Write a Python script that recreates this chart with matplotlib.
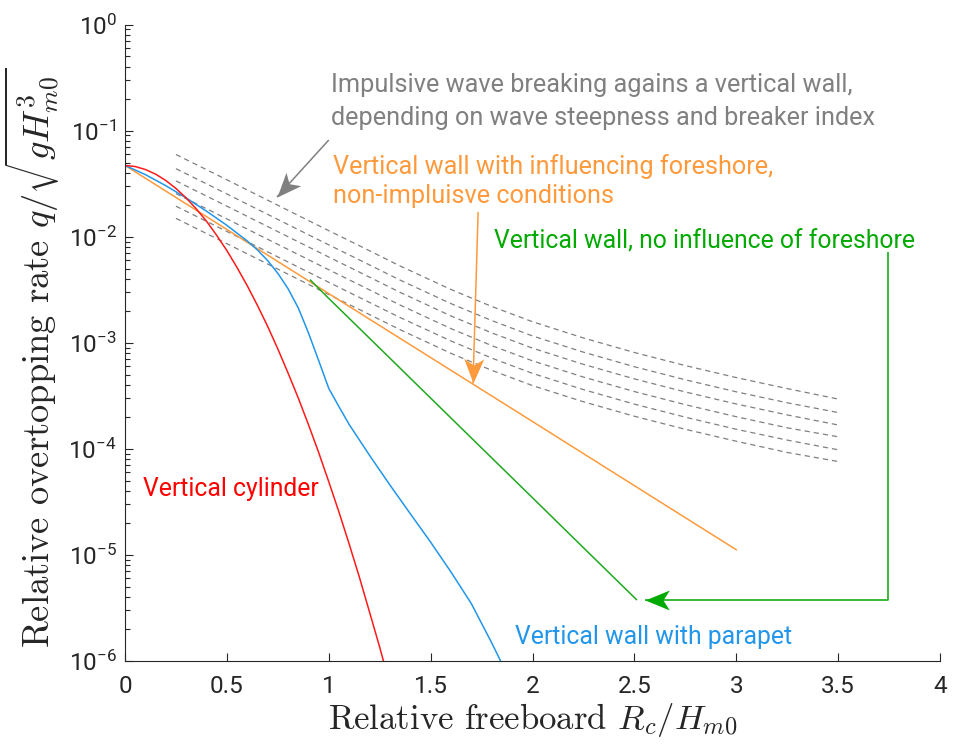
import numpy as np
import matplotlib
matplotlib.use('Agg')
import matplotlib.pyplot as plt
from matplotlib.markers import MarkerStyle
from matplotlib.path import Path
from matplotlib.transforms import Affine2D

# relative freeboard Rc/Hm0 and relative overtopping rate q/sqrt(g Hm0^3)
rc_cyl = [0, 0.05, 0.1, 0.15, 0.2, 0.25, 0.3, 0.35, 0.4, 0.45, 0.5, 0.55, 0.6, 0.65,
          0.7, 0.75, 0.8, 0.85, 0.9, 0.95, 1.0, 1.05, 1.1, 1.15, 1.2, 1.25, 1.3]
q_cyl = [0.047, 0.0459, 0.0430, 0.0389, 0.0339, 0.0285, 0.0232, 0.0183, 0.0140,
         0.0103, 0.0074, 0.00512, 0.00345, 0.00225, 0.00143, 8.76e-4, 5.2e-4,
         3.03e-4, 1.70e-4, 9.3e-5, 4.9e-5, 2.54e-5, 1.27e-5, 6.2e-6, 2.9e-6,
         1.35e-6, 6.0e-7]

rc_par = [0, 0.1, 0.2, 0.3, 0.4, 0.5, 0.6, 0.65, 0.7, 0.75, 0.8, 0.85, 0.9, 0.95,
          1.0, 1.05, 1.1, 1.2, 1.3, 1.4, 1.5, 1.6, 1.7, 1.8, 1.9]
q_par = [0.047, 0.0385, 0.0303, 0.0232, 0.0174, 0.0128, 0.00912, 0.0075, 0.00596,
         0.00452, 0.00324, 0.00214, 0.001245, 6.84e-4, 3.72e-4, 2.5e-4, 1.70e-4,
         8.7e-5, 4.57e-5, 2.45e-5, 1.32e-5, 6.9e-6, 3.47e-6, 1.48e-6, 6.0e-7]

rc_wall = [0.91, 1.0, 1.25, 1.5, 1.75, 2.0, 2.25, 2.51]
q_wall = [3.9e-3, 2.62e-3, 8.9e-4, 3.01e-4, 1.02e-4, 3.46e-5, 1.17e-5, 3.8e-6]

rc_fore = [0, 0.5, 1.0, 1.5, 2.0, 2.5, 3.0]
q_fore = [0.047, 0.0117, 2.91e-3, 7.26e-4, 1.81e-4, 4.5e-5, 1.12e-5]

# impulsive breaking, one line per steepness / breaker index
rc_imp = [0.25, 0.5, 0.75, 1.0, 1.15, 1.35, 1.6, 1.8, 2.0, 2.25, 2.5, 2.75, 3.0, 3.25, 3.5]
q_imp = [
    [0.0596, 0.0344, 0.0198, 0.0114, 0.00823, 0.0053, 0.00318, 0.0022, 0.00158,
     0.00111, 8.1e-4, 6.1e-4, 4.7e-4, 3.7e-4, 2.95e-4],
    [0.0438, 0.0253, 0.01455, 0.00838, 0.00605, 0.0039, 0.00234, 0.00162, 0.00116,
     8.16e-4, 5.95e-4, 4.48e-4, 3.45e-4, 2.72e-4, 2.2e-4],
    [0.0336, 0.0194, 0.01117, 0.00643, 0.00464, 0.00299, 0.00179, 0.00124, 8.9e-4,
     6.26e-4, 4.57e-4, 3.44e-4, 2.65e-4, 2.09e-4, 1.68e-4],
    [0.0255, 0.01472, 0.00847, 0.00488, 0.00352, 0.00227, 0.00136, 9.4e-4, 6.76e-4,
     4.75e-4, 3.47e-4, 2.61e-4, 2.01e-4, 1.58e-4, 1.3e-4],
    [0.0194, 0.01121, 0.00645, 0.00372, 0.00268, 0.00173, 0.00104, 7.17e-4, 5.15e-4,
     3.62e-4, 2.64e-4, 1.99e-4, 1.53e-4, 1.21e-4, 9.8e-5],
    [0.0149, 0.0086, 0.00495, 0.00285, 0.00206, 0.00133, 7.95e-4, 5.5e-4, 3.95e-4,
     2.78e-4, 2.03e-4, 1.53e-4, 1.18e-4, 9.25e-5, 7.6e-5],
]

x_ticks = [0, 0.5, 1, 1.5, 2, 2.5, 3, 3.5, 4]
x_ticklabels = ['0', '0.5', '1', '1.5', '2', '2.5', '3', '3.5', '4']
y_ticks = [1e-6, 1e-5, 1e-4, 1e-3, 1e-2, 1e-1, 1e0]

RED = '#ff1a1a'
BLUE = '#2196ea'
GREEN = '#1fa81f'
GREEN_TXT = '#00aa00'
ORANGE = '#ff9a3c'
GREY = '#808080'
AXC = '#262626'

plt.rcParams['font.family'] = ['Roboto', 'DejaVu Sans']
plt.rcParams['axes.unicode_minus'] = False

fig = plt.figure(figsize=(9.55, 7.51), dpi=100)
ax = fig.add_axes([0.1309, 0.1198, 0.8534, 0.8475])
ax.set_yscale('log')
ax.set_xlim(0, 4)
ax.set_ylim(1e-6, 1)

for q in q_imp:
    ax.plot(rc_imp, q, color=GREY, lw=0.9, dashes=(4.2, 3.2))
ax.plot(rc_fore, q_fore, color=ORANGE, lw=1.1)
ax.plot(rc_wall, q_wall, color=GREEN, lw=1.1)
ax.plot(rc_par, q_par, color=BLUE, lw=1.1)
ax.plot(rc_cyl, q_cyl, color=RED, lw=1.1)

# notched arrow head, tip at the origin
head = Path([(0, 0), (-1, 0.41), (-0.74, 0), (-1, -0.41), (0, 0)], closed=True)


def arrow(pts, color):
    xs = [p[0] for p in pts]
    ys = [p[1] for p in pts]
    ax.plot(xs, ys, color=color, lw=1.1, solid_capstyle='butt')
    a = ax.transData.transform(pts[-2])
    b = ax.transData.transform(pts[-1])
    ang = np.degrees(np.arctan2(b[1] - a[1], b[0] - a[0]))
    m = MarkerStyle(head, transform=Affine2D().rotate_deg(ang))
    ax.plot([xs[-1]], [ys[-1]], marker=m, ms=35, color=color, mec='none', ls='none')


arrow([(1.0, 0.0816), (0.746, 0.0237)], GREY)
arrow([(1.733, 0.0171), (1.708, 4.15e-4)], ORANGE)
arrow([(3.745, 7.2e-3), (3.745, 3.77e-6), (2.552, 3.77e-6)], GREEN_TXT)

fs = 17.8
ax.text(1.011, 0.19, 'Impulsive wave breaking agains a vertical wall,\n'
        'depending on wave steepness and breaker index',
        color=GREY, fontsize=18.2, va='center', ha='left', linespacing=1.47)
ax.text(1.02, 0.0335, 'Vertical wall with influencing foreshore,\n'
        'non-impluisve conditions',
        color=ORANGE, fontsize=18.2, va='center', ha='left', linespacing=1.28)
ax.text(1.811, 9.1e-3, 'Vertical wall, no influence of foreshore',
        color=GREEN_TXT, fontsize=fs, va='center', ha='left')
ax.text(0.088, 4.19e-5, 'Vertical cylinder', color='#ff0000', fontsize=fs,
        va='center', ha='left')
ax.text(1.914, 1.69e-6, 'Vertical wall with parapet', color=BLUE, fontsize=fs,
        va='center', ha='left')

ax.set_xticks(x_ticks)
ax.set_xticklabels(x_ticklabels)
ax.set_yticks(y_ticks)
ax.tick_params(which='both', direction='in', color=AXC, labelcolor=AXC,
               labelsize=17.5, width=0.8)
ax.tick_params(which='major', length=6)
ax.tick_params(which='minor', length=3.5)
ax.tick_params(axis='x', pad=10)
ax.tick_params(axis='y', pad=6)
for s in ['top', 'right']:
    ax.spines[s].set_visible(False)
for s in ['left', 'bottom']:
    ax.spines[s].set_color(AXC)
    ax.spines[s].set_linewidth(0.8)

ax.set_xlabel(r'Relative freeboard $R_c/H_{m0}$', family='cmr10',
              math_fontfamily='cm', fontsize=25, color=AXC, labelpad=2)
ax.set_ylabel(r'Relative overtopping rate $q/\sqrt{gH_{m0}^3}$', family='cmr10',
              math_fontfamily='cm', fontsize=26.3, color=AXC)
ax.yaxis.set_label_coords(-0.077, 0.476)

fig.savefig('out.png', dpi=100)
